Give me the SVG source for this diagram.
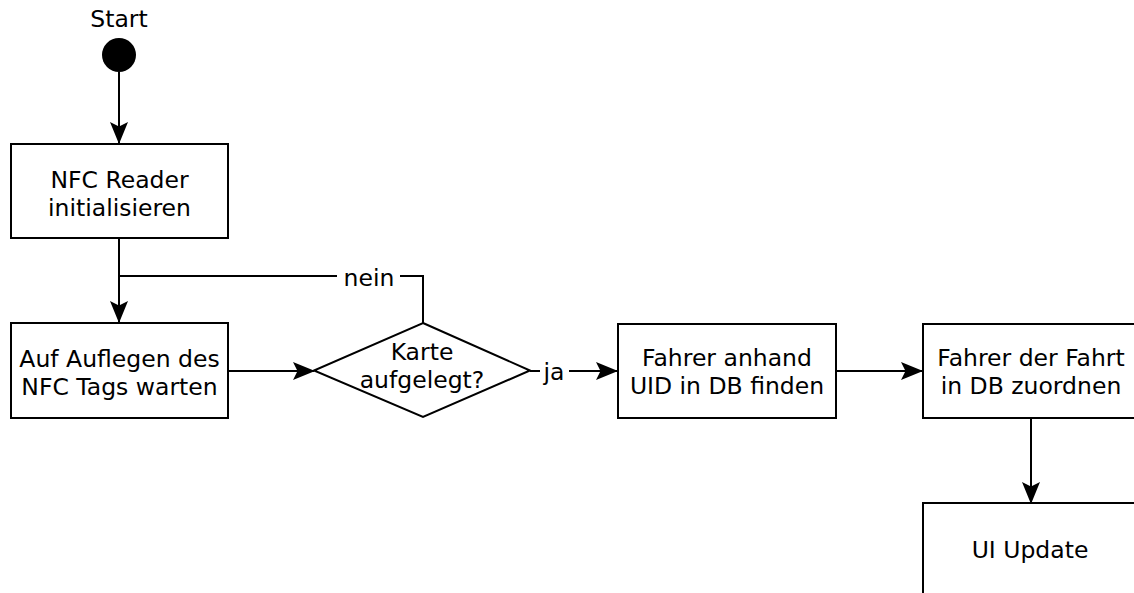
<svg xmlns="http://www.w3.org/2000/svg" width="1134" height="593" viewBox="0 0 1134 593">
  <style>
    .box { fill: #ffffff; stroke: #000000; stroke-width: 2; }
    .edge { fill: none; stroke: #000000; stroke-width: 2; }
    .lbl { font-family: "DejaVu Sans", sans-serif; font-size: 23.5px; fill: #000000; text-anchor: middle; }
  </style>
  <defs>
    <marker id="arrow" viewBox="0 0 22 18" refX="21" refY="9" markerWidth="22" markerHeight="18" markerUnits="userSpaceOnUse" orient="auto">
      <path d="M0,0 L22,9 L0,18 L4.5,9 Z" fill="#000000"/>
    </marker>
  </defs>
  <rect width="1134" height="593" fill="#ffffff"/>

  <!-- connectors -->
  <g id="edges">
    <path class="edge" d="M119,72 L119,143" marker-end="url(#arrow)"/>
    <path class="edge" d="M119,238 L119,322" marker-end="url(#arrow)"/>
    <path class="edge" d="M423,323 L423,276 L400,276"/>
    <path class="edge" d="M337,276 L119,276"/>
    <text class="lbl" x="369" y="286">nein</text>
    <path class="edge" d="M228,371 L314,371" marker-end="url(#arrow)"/>
    <path class="edge" d="M530,371 L540,371"/>
    <text class="lbl" x="554" y="380">ja</text>
    <path class="edge" d="M569,371 L617,371" marker-end="url(#arrow)"/>
    <path class="edge" d="M836,371 L922,371" marker-end="url(#arrow)"/>
    <path class="edge" d="M1031,418 L1031,503" marker-end="url(#arrow)"/>
  </g>

  <g id="start">
    <text class="lbl" x="119" y="27">Start</text>
    <circle cx="119" cy="55" r="17" fill="#000000"/>
  </g>

  <g id="init">
    <rect class="box" x="11" y="144" width="217" height="94"/>
    <text class="lbl" x="119.5" y="188">NFC Reader</text>
    <text class="lbl" x="119.5" y="216">initialisieren</text>
  </g>

  <g id="wait">
    <rect class="box" x="11" y="323" width="217" height="95"/>
    <text class="lbl" x="119.5" y="367">Auf Auflegen des</text>
    <text class="lbl" x="119.5" y="395">NFC Tags warten</text>
  </g>

  <g id="decision">
    <polygon class="box" points="423,323 530,370.5 423,417 314,370.5"/>
    <text class="lbl" x="422" y="360">Karte</text>
    <text class="lbl" x="422" y="388">aufgelegt?</text>
  </g>

  <g id="find">
    <rect class="box" x="618" y="324" width="218" height="94"/>
    <text class="lbl" x="727" y="366">Fahrer anhand</text>
    <text class="lbl" x="727" y="394">UID in DB finden</text>
  </g>

  <g id="assign">
    <rect class="box" x="923" y="324" width="216" height="94"/>
    <text class="lbl" x="1031" y="366">Fahrer der Fahrt</text>
    <text class="lbl" x="1031" y="394">in DB zuordnen</text>
  </g>

  <g id="update">
    <rect class="box" x="923" y="503" width="216" height="110"/>
    <text class="lbl" x="1030" y="558">UI Update</text>
  </g>
</svg>
